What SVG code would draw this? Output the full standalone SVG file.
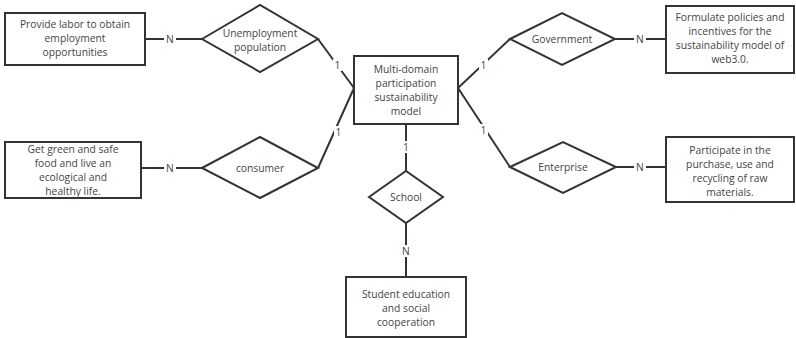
<svg xmlns="http://www.w3.org/2000/svg" width="796" height="338" viewBox="0 0 796 338">
<style>
.box{fill:#fff;stroke:#333;stroke-width:2}
.dia{fill:#fff;stroke:#333;stroke-width:2}
.ln{fill:none;stroke:#333;stroke-width:2}
.bg{fill:#fff}
text{font-family:"Open Sans","Noto Sans",sans-serif;font-size:10.3px;fill:#444;text-anchor:middle}
</style>
<rect width="796" height="338" fill="#fff"/>
<g id="connectors">
<line class="ln" x1="145" y1="39" x2="202" y2="39"/>
<line class="ln" x1="318" y1="39" x2="354" y2="88"/>
<line class="ln" x1="141" y1="168" x2="202" y2="168"/>
<line class="ln" x1="318" y1="168" x2="354" y2="88"/>
<line class="ln" x1="458" y1="88" x2="510" y2="39"/>
<line class="ln" x1="615" y1="39" x2="666" y2="39"/>
<line class="ln" x1="458" y1="88" x2="510" y2="167"/>
<line class="ln" x1="616" y1="167" x2="666" y2="167"/>
<line class="ln" x1="406" y1="124" x2="406" y2="171"/>
<line class="ln" x1="406" y1="223" x2="406" y2="277"/>
<g class="labels">
<rect class="bg" x="164" y="33" width="12" height="12"/><text x="170" y="43">N</text>
<rect class="bg" x="164" y="162" width="12" height="12"/><text x="170" y="172">N</text>
<rect class="bg" x="634" y="33" width="12" height="12"/><text x="640" y="43">N</text>
<rect class="bg" x="634" y="161" width="12" height="12"/><text x="640" y="171">N</text>
<rect class="bg" x="400" y="245" width="12" height="12"/><text x="406" y="255">N</text>
<rect class="bg" x="333" y="59" width="9" height="12"/><text x="337.5" y="69">1</text>
<rect class="bg" x="334" y="126" width="9" height="12"/><text x="338.5" y="136">1</text>
<rect class="bg" x="479" y="59" width="9" height="12"/><text x="483.5" y="69">1</text>
<rect class="bg" x="479" y="124" width="9" height="12"/><text x="483.5" y="134">1</text>
<rect class="bg" x="401" y="141" width="10" height="12"/><text x="406" y="151">1</text>
</g>
</g>
<g id="center">
<rect class="box" x="354" y="56" width="104" height="68"/>
<text x="406" y="73">Multi-domain</text>
<text x="406" y="87">participation</text>
<text x="406" y="101">sustainability</text>
<text x="406" y="115">model</text>
</g>
<g id="unemployment">
<polygon class="dia" points="202,39 260,5 318,39 260,72"/>
<text x="260" y="37">Unemployment</text>
<text x="260" y="51">population</text>
</g>
<g id="labor">
<rect class="box" x="5" y="13" width="140" height="52"/>
<text x="75" y="28">Provide labor to obtain</text>
<text x="75" y="42">employment</text>
<text x="75" y="56">opportunities</text>
</g>
<g id="consumer">
<polygon class="dia" points="202,168 260,137 318,168 260,198"/>
<text x="260" y="172">consumer</text>
</g>
<g id="food">
<rect class="box" x="5" y="142" width="136" height="56"/>
<text x="73" y="153">Get green and safe</text>
<text x="73" y="167">food and live an</text>
<text x="73" y="181">ecological and</text>
<text x="73" y="195">healthy life.</text>
</g>
<g id="government">
<polygon class="dia" points="510,39 562,13 615,39 562,65"/>
<text x="562" y="43">Government</text>
</g>
<g id="policies">
<rect class="box" x="666" y="6" width="128" height="67"/>
<text x="730" y="21">Formulate policies and</text>
<text x="730" y="35">incentives for the</text>
<text x="730" y="49">sustainability model of</text>
<text x="730" y="63">web3.0.</text>
</g>
<g id="enterprise">
<polygon class="dia" points="510,167 563,142 616,167 563,193"/>
<text x="563" y="171">Enterprise</text>
</g>
<g id="purchase">
<rect class="box" x="666" y="137" width="128" height="65"/>
<text x="730" y="154">Participate in the</text>
<text x="730" y="168">purchase, use and</text>
<text x="730" y="182">recycling of raw</text>
<text x="730" y="196">materials.</text>
</g>
<g id="school">
<polygon class="dia" points="369,197 406,171 443,197 406,223"/>
<text x="406" y="201">School</text>
</g>
<g id="student">
<rect class="box" x="346" y="277" width="120" height="60"/>
<text x="406" y="298">Student education</text>
<text x="406" y="312">and social</text>
<text x="406" y="326">cooperation</text>
</g>
</svg>
